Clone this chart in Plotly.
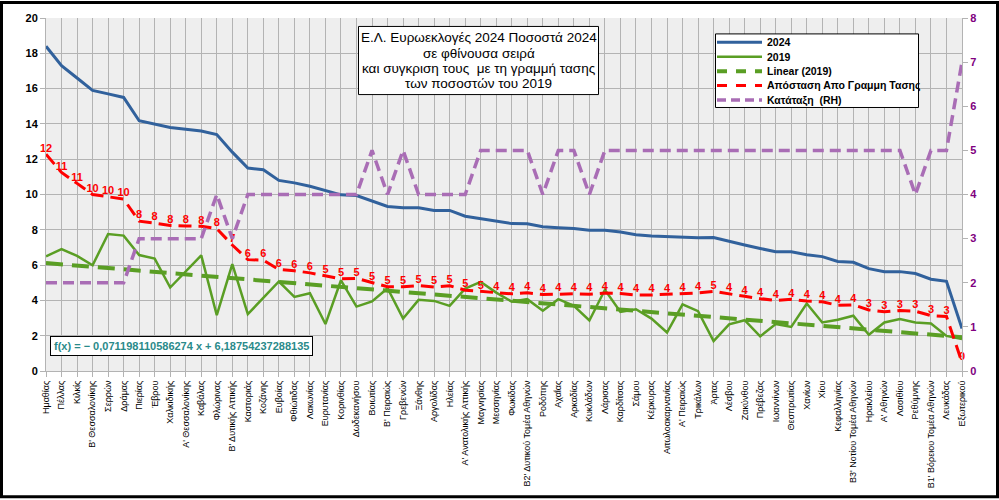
import plotly.graph_objects as go

districts = ["Ημαθίας","Πέλλας","Κιλκίς","Β' Θεσσαλονίκης","Σερρών","Δράμας","Πιερίας","Έβρου",
             "Χαλκιδικής","Α' Θεσσαλονίκης","Καβάλας","Φλώρινας","Β' Δυτικής Αττικής","Καστοριάς",
             "Κοζάνης","Ευβοίας","Φθιώτιδας","Λακωνίας","Ευρυτανίας","Κορινθίας","Δωδεκανήσου",
             "Βοιωτίας","Β' Πειραιώς","Γρεβενών","Ξάνθης","Αργολίδας","Ηλείας","Α' Ανατολικής Αττικής",
             "Μαγνησίας","Μεσσηνίας","Φωκίδας","Β2' Δυτικού Τομέα Αθηνών","Ροδόπης","Αχαΐας",
             "Αρκαδίας","Κυκλάδων","Λάρισας","Καρδίτσας","Σάμου","Κέρκυρας","Αιτωλοακαρνανίας",
             "Α' Πειραιώς","Τρικάλων","Άρτας","Λέσβου","Ζακύνθου","Πρέβεζας","Ιωαννίνων","Θεσπρωτίας",
             "Χανίων","Χίου","Κεφαλληνίας","Β3' Νοτίου Τομέα Αθηνών","Ηρακλείου","Α' Αθηνών",
             "Λασιθίου","Ρεθύμνης","Β1' Βόρειου Τομέα Αθηνών","Λευκάδας","Εξωτερικού"]

pct_2024 = [18.4, 17.3, 16.6, 15.9, 15.7, 15.5, 14.18, 14.0, 13.8, 13.7, 13.6, 13.4, 12.4, 11.5,
            11.4, 10.8, 10.66, 10.47, 10.24, 9.98, 9.94, 9.64, 9.32, 9.25, 9.25, 9.1, 9.1, 8.77,
            8.62, 8.47, 8.35, 8.34, 8.17, 8.12, 8.08, 7.97, 7.97, 7.87, 7.72, 7.65, 7.61, 7.55,
            7.55, 7.56, 7.33, 7.14, 6.94, 6.76, 6.76, 6.59, 6.48, 6.21, 6.16, 5.80, 5.63, 5.63,
            5.52, 5.20, 5.08, 2.41]

pct_2019 = [6.50, 6.91, 6.52, 5.99, 7.76, 7.67, 6.57, 6.37, 4.73, 5.67, 6.55, 3.16, 6.05, 3.22,
            4.16, 5.07, 4.20, 4.41, 2.66, 5.14, 3.65, 3.94, 4.69, 2.97, 4.03, 3.97, 3.69, 4.67,
            5.05, 4.44, 3.93, 4.07, 3.41, 4.07, 3.69, 2.86, 4.60, 3.35, 3.50, 2.97, 2.18, 3.77,
            3.39, 1.69, 2.64, 2.88, 1.96, 2.66, 2.50, 3.82, 2.75, 2.90, 3.13, 2.05, 2.75, 2.94,
            2.75, 2.69, 1.99, 1.81]

# trend line of 2019 (coefficients as printed on the chart)
trend_slope = -0.071198110586274
trend_intercept = 6.18754237288135

distance = [12.28, 11.25, 10.63, 10.00, 9.87, 9.74, 8.49, 8.38, 8.25, 8.22, 8.20, 8.07, 7.14, 6.31,
            6.28, 5.75, 5.68, 5.56, 5.41, 5.22, 5.25, 5.02, 4.77, 4.77, 4.84, 4.76, 4.83, 4.58,
            4.50, 4.42, 4.37, 4.43, 4.33, 4.35, 4.38, 4.35, 4.42, 4.39, 4.31, 4.31, 4.34, 4.35,
            4.42, 4.51, 4.35, 4.23, 4.10, 3.99, 4.06, 3.96, 3.92, 3.72, 3.75, 3.46, 3.36, 3.43,
            3.39, 3.14, 3.09, 0.49]

distance_labels = (["12", "11", "11", "10", "10", "10"] + ["8"] * 6 + ["7"] + ["6"] * 5 +
                   ["5"] * 11 + ["4"] * 14 + ["5"] + ["4"] * 9 + ["3"] * 6 + ["0"])

rank = ([2] * 6 + [3] * 5 + [4] + [3] + [4] * 8 + [5] + [4] + [5] + [4] * 4 + [5] * 4 + [4] +
        [5] * 2 + [4] + [5] * 20 + [4] + [5] * 2 + [7])

left_ticks = list(range(0, 21, 2))
right_ticks = list(range(0, 9))

series_names = ["2024", "2019", "Linear (2019)", "Απόσταση Απο Γραμμη Τασης", "Κατάταξη  (RH)"]
title_lines = ["Ε.Λ. Ευρωεκλογές 2024 Ποσοστά 2024", "σε φθίνουσα σειρά",
               "και συγκριση τους  με τη γραμμή τασης", "των ποσοστών του 2019"]

xs = list(range(len(districts)))
trend = [trend_intercept + trend_slope * (i + 1) for i in xs]

FONT = "Liberation Sans"
GRID = "#b3b3b3"
C_BLUE, C_GREEN, C_RED, C_PURPLE = "#31619c", "#5a9e24", "#ff0000", "#a96db5"
styles = [
    dict(color=C_BLUE, width=3),
    dict(color=C_GREEN, width=2.5),
    dict(color=C_GREEN, width=4, dash="17px,9px"),
    dict(color=C_RED, width=3, dash="13px,7px"),
    dict(color=C_PURPLE, width=3.5, dash="11px,6px"),
]
legend_dash = [None, None, "10px,9px", "10px,9px", "9px,5px"]

fig = go.Figure()
fig.add_trace(go.Scatter(x=xs, y=pct_2024, name=series_names[0], mode="lines", line=styles[0]))
fig.add_trace(go.Scatter(x=xs, y=pct_2019, name=series_names[1], mode="lines", line=styles[1]))
fig.add_trace(go.Scatter(x=xs, y=trend, name=series_names[2], mode="lines", line=styles[2]))
fig.add_trace(go.Scatter(x=xs, y=distance, name=series_names[3], mode="lines+text",
                         text=distance_labels, textposition="top center", cliponaxis=False,
                         textfont=dict(color=C_RED, size=11, family=FONT, weight="bold"),
                         line=styles[3]))
fig.add_trace(go.Scatter(x=xs, y=rank, name=series_names[4], mode="lines", yaxis="y2",
                         line=styles[4]))

fig.update_layout(
    width=999, height=500,
    margin=dict(l=46, r=37, t=17, b=128),
    paper_bgcolor="white", plot_bgcolor="#eeeeee",
    font=dict(family=FONT, color="black"),
    showlegend=False,
    xaxis=dict(range=[0, len(districts) - 1], tickmode="array", tickvals=xs, ticktext=districts,
               tickangle=-90, tickfont=dict(size=9, family=FONT, color="black"),
               showgrid=True, gridcolor=GRID, gridwidth=1, zeroline=False,
               showline=True, linecolor=GRID, ticks="outside", ticklen=5, tickcolor=GRID),
    yaxis=dict(range=[0, 20], tickmode="array", tickvals=left_ticks,
               tickfont=dict(size=11, family=FONT, color="black", weight="bold"),
               showgrid=True, gridcolor=GRID, gridwidth=1, zeroline=False,
               showline=True, linecolor=GRID, ticks="outside", ticklen=5, tickcolor=GRID),
    yaxis2=dict(range=[0, 8], tickmode="array", tickvals=right_ticks, overlaying="y", side="right",
                tickfont=dict(size=11, family=FONT, color="#800080", weight="bold"),
                showgrid=False, zeroline=False, showline=True, linecolor=GRID,
                ticks="outside", ticklen=5, tickcolor=GRID),
)

PW, PH, PL, PB = 916, 355, 46, 372
def px(x):
    return (x - PL) / PW
def py(y):
    return (PB - y) / PH

# legend box (drawn manually to match compact spacing)
fig.add_shape(type="rect", xref="paper", yref="paper", x0=px(715.5), x1=px(918.5),
              y0=py(107), y1=py(33), line=dict(color="black", width=1), fillcolor="white",
              layer="above")
for k, name in enumerate(series_names):
    yc = 41.5 + 14.5 * k
    ln = dict(color=styles[k]["color"], width=styles[k]["width"])
    if legend_dash[k]:
        ln["dash"] = legend_dash[k]
    fig.add_shape(type="line", xref="paper", yref="paper", x0=px(717), x1=px(762),
                  y0=py(yc), y1=py(yc), line=ln, layer="above")
    fig.add_annotation(xref="paper", yref="paper", x=px(765), y=py(yc), xanchor="left",
                       yanchor="middle", showarrow=False, text=name,
                       font=dict(size=10.5, family=FONT, color="black", weight="bold"))

# title box
fig.add_shape(type="rect", xref="paper", yref="paper", x0=px(358.5), x1=px(598.5),
              y0=py(94), y1=py(25.5), line=dict(color="black", width=1), fillcolor="white",
              layer="above")
for k, line in enumerate(title_lines):
    fig.add_annotation(xref="paper", yref="paper", x=px(478.5), y=py(36.8 + 15.4 * k),
                       xanchor="center", yanchor="middle", showarrow=False, text=line,
                       font=dict(size=13.5, family=FONT, color="black"))

fig.add_annotation(
    xref="paper", yref="paper", x=px(50), y=py(347),
    xanchor="left", yanchor="middle", showarrow=False,
    text="f(x) = − 0,071198110586274 x + 6,18754237288135",
    font=dict(size=11, family=FONT, color="#2a8a8a", weight="bold"),
    bgcolor="white", bordercolor="black", borderwidth=1, borderpad=3,
)

# outer frame
fig.add_shape(type="rect", xref="paper", yref="paper",
              x0=px(1.5), x1=px(997.5), y0=py(498.5), y1=py(1.5),
              line=dict(color="black", width=3), fillcolor="rgba(0,0,0,0)", layer="above")

fig.write_html("out.html")
